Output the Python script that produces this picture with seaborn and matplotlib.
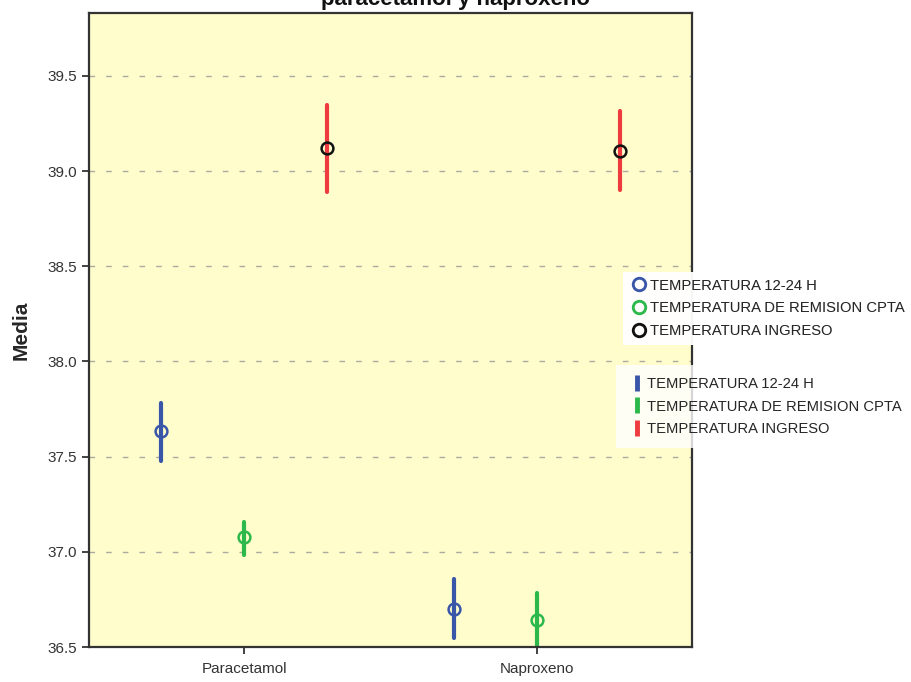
import matplotlib
matplotlib.use("Agg")
import matplotlib.pyplot as plt
from matplotlib.lines import Line2D
import seaborn as sns
import pandas as pd

groups = ["Paracetamol", "Naproxeno"]
series = ["TEMPERATURA 12-24 H", "TEMPERATURA DE REMISION CPTA", "TEMPERATURA INGRESO"]
mean_12_24 = [37.632, 36.700]
mean_remision = [37.079, 36.642]
mean_ingreso = [39.121, 39.105]
low_12_24 = [37.479, 36.545]
low_remision = [36.984, 36.48]
low_ingreso = [38.890, 38.900]
high_12_24 = [37.784, 36.858]
high_remision = [37.158, 36.784]
high_ingreso = [39.347, 39.316]
yticks = [36.5, 37.0, 37.5, 38.0, 38.5, 39.0, 39.5]

marker_colors = ["#3A56A8", "#2DB84B", "#111111"]
bar_colors = ["#3A56A8", "#2DB84B", "#EE3B3F"]

rows = []
for s, m, lo, hi in zip(series, [mean_12_24, mean_remision, mean_ingreso],
                        [low_12_24, low_remision, low_ingreso],
                        [high_12_24, high_remision, high_ingreso]):
    for g, mv, lv, hv in zip(groups, m, lo, hi):
        for v in (lv, mv, hv):
            rows.append({"grupo": g, "serie": s, "valor": v})
df = pd.DataFrame(rows)

sns.set_style("white")
plt.rcParams["font.family"] = ["Liberation Sans", "DejaVu Sans"]

fig = plt.figure(figsize=(9.11, 6.82), dpi=100)
ax = fig.add_axes([89/911, 1-647/682, (692-89)/911, (647-13)/682])
ax.set_facecolor("#FFFDCB")

dodge = 0.568
sns.pointplot(data=df, x="grupo", y="valor", hue="serie", order=groups, hue_order=series,
              estimator="median", errorbar=("pi", 100), dodge=dodge,
              palette=bar_colors, linestyle="none", markers="", markersize=0,
              err_kws={"linewidth": 3.0, "solid_capstyle": "round"}, legend=False, ax=ax)
sns.pointplot(data=df, x="grupo", y="valor", hue="serie", order=groups, hue_order=series,
              estimator="median", errorbar=None, dodge=dodge,
              palette=marker_colors, linestyle="none", markers="o", markersize=8.5,
              markerfacecolor="none", markeredgewidth=1.8, legend=False, ax=ax)
for ln in ax.lines:
    if ln.get_marker() == "o":
        ln.set_markerfacecolor("none")
        ln.set_zorder(5)

ax.set_xlim(-0.531, 1.531)
ax.set_ylim(36.5, 39.83)
ax.set_yticks(yticks)
ax.set_yticklabels([f"{t:.1f}" for t in yticks])
for t in yticks[1:]:
    ax.axhline(t, color="#AAAAA0", linestyle=(0, (4, 8)), linewidth=1.0, zorder=0.5)

ax.set_xlabel("")
ax.set_ylabel("Media", fontsize=15, fontweight="bold", labelpad=12)
ax.tick_params(axis="both", direction="out", length=5, width=1.2, color="#222222",
               labelsize=11, labelcolor="#333333", left=True, bottom=True)
ax.tick_params(axis="x", pad=6)
for sp in ax.spines.values():
    sp.set_color("#333333")
    sp.set_linewidth(1.6)

fig.text(0.5, 1 - 5/682, "paracetamol y naproxeno", ha="center", va="baseline",
         fontsize=16, fontweight="bold", color="#111111")

h1 = [Line2D([], [], linestyle="none", marker="o", markersize=9, markerfacecolor="none",
             markeredgecolor=c, markeredgewidth=2) for c in marker_colors]
h2 = [Line2D([], [], linestyle="none", marker="|", markersize=11, markeredgewidth=3.5,
             color=c) for c in bar_colors]

leg1 = fig.legend(h1, series, loc="upper left", bbox_to_anchor=(623/911, 1-272/682),
                  frameon=True, facecolor="white", edgecolor="none", fancybox=False,
                  fontsize=10.6, handlelength=1.3, handletextpad=0.05, labelspacing=0.6,
                  borderpad=0.45, borderaxespad=0)
leg1.get_frame().set_linewidth(0)
leg2 = fig.legend(h2, series, loc="upper left", bbox_to_anchor=(616/911, 1-365/682),
                  frameon=True, facecolor="white", edgecolor="none", fancybox=False,
                  fontsize=10.6, handlelength=1.3, handletextpad=0.0, labelspacing=0.6,
                  borderpad=0.8, borderaxespad=0)
leg2.get_frame().set_linewidth(0)
fig.add_artist(leg1)

fig.savefig("out.png", dpi=100)
